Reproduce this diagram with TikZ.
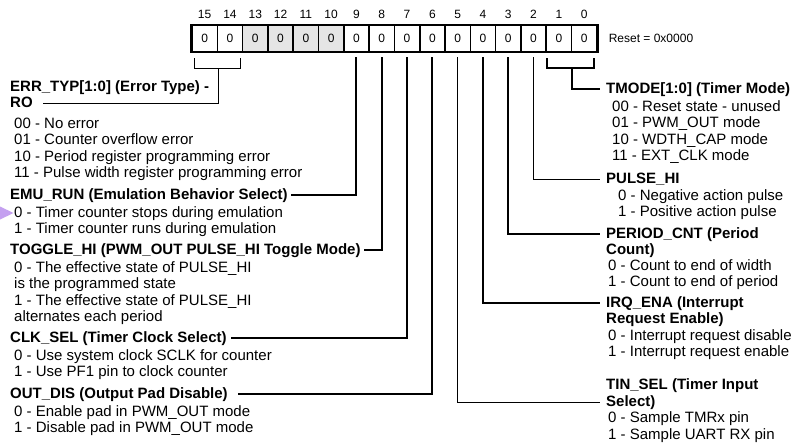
\documentclass[tikz,border=0pt]{standalone}
\usepackage{fontspec}
\setmainfont{Liberation Sans}
\usetikzlibrary{positioning}
\definecolor{shade}{gray}{0.9}
\definecolor{lavender}{RGB}{196,160,240}

\begin{document}
\begin{tikzpicture}[x=1pt,y=-1pt,
    cell/.style={draw,line width=1.6pt,minimum width=25.3pt,minimum height=26pt,
                 inner sep=0pt,font=\fontsize{12}{14}\selectfont},
    bitnum/.style={inner sep=0pt,font=\fontsize{12}{14}\selectfont},
    txt/.style={inner sep=0pt,anchor=base west,text height=11pt,text depth=3.5pt,
                font=\fontsize{15}{17}\selectfont},
    head/.style={txt,font=\fontsize{15}{17}\selectfont\bfseries},
    wire/.style={line width=2pt},
    thinwire/.style={line width=1.1pt}]

  \path[fill=white] (0,0) rectangle (806,447);
  \useasboundingbox (0,0) rectangle (806,447);

  \foreach \b/\f in {15/white,14/white,13/shade,12/shade,11/shade,10/shade,9/white,8/white,
                     7/white,6/white,5/white,4/white,3/white,2/white,1/white,0/white}{
    \node[cell,fill=\f] (b\b) at ({204.65+25.3*(15-\b)},38.5) {0};
    \node[bitnum,above=5.5pt of b\b] (n\b) {\b};
  }
  \draw[line width=2.2pt] (b15.north west) rectangle (b0.south east);
  \node[bitnum,right=11pt of b0] (reset) {Reset = 0x0000};

  % left side
  \node[head] (errtyp) at (10,91) {ERR\_TYP[1:0] (Error Type) -};
  \node[head] (errro) at (10,107) {RO};
  \foreach \t [count=\i from 0] in {00 - No error,01 - Counter overflow error,
      10 - Period register programming error,11 - Pulse width register programming error}
    \node[txt] (err\i) at (14,{128+16.6*\i}) {\t};

  \node[head] (emu) at (10,199) {EMU\_RUN (Emulation Behavior Select)};
  \foreach \t [count=\i from 0] in {0 - Timer counter stops during emulation,
      1 - Timer counter runs during emulation}
    \node[txt] (emu\i) at (14,{217+16.6*\i}) {\t};

  \node[head] (toggle) at (10,254) {TOGGLE\_HI (PWM\_OUT PULSE\_HI Toggle Mode)};
  \foreach \t [count=\i from 0] in {0 - The effective state of PULSE\_HI,is the programmed state,
      1 - The effective state of PULSE\_HI,alternates each period}
    \node[txt] (toggle\i) at (14,{272+16.6*\i}) {\t};

  \node[head] (clk) at (10,342) {CLK\_SEL (Timer Clock Select)};
  \foreach \t [count=\i from 0] in {0 - Use system clock SCLK for counter,
      1 - Use PF1 pin to clock counter}
    \node[txt] (clk\i) at (14,{360+16.6*\i}) {\t};

  \node[head] (outdis) at (10,398) {OUT\_DIS (Output Pad Disable)};
  \foreach \t [count=\i from 0] in {0 - Enable pad in PWM\_OUT mode,1 - Disable pad in PWM\_OUT mode}
    \node[txt] (outdis\i) at (14,{416+16.6*\i}) {\t};

  % right side
  \node[head] (tmode) at (606,93) {TMODE[1:0] (Timer Mode)};
  \foreach \t [count=\i from 0] in {00 - Reset state - unused,01 - PWM\_OUT mode,
      10 - WDTH\_CAP mode,11 - EXT\_CLK mode}
    \node[txt] (tmode\i) at (612,{111+16.6*\i}) {\t};

  \node[head] (pulse) at (606,183) {PULSE\_HI};
  \foreach \t [count=\i from 0] in {0 - Negative action pulse,1 - Positive action pulse}
    \node[txt] (pulse\i) at (618,{200+16.6*\i}) {\t};

  \node[head] (period) at (606,238) {PERIOD\_CNT (Period};
  \node[head] (periodb) at (606,254) {Count)};
  \foreach \t [count=\i from 0] in {0 - Count to end of width,1 - Count to end of period}
    \node[txt] (period\i) at (608,{270+16.6*\i}) {\t};

  \node[head] (irq) at (606,307) {IRQ\_ENA (Interrupt};
  \node[head] (irqb) at (606,323) {Request Enable)};
  \foreach \t [count=\i from 0] in {0 - Interrupt request disable,1 - Interrupt request enable}
    \node[txt] (irq\i) at (608,{340+16.6*\i}) {\t};

  \node[head] (tin) at (606,389.5) {TIN\_SEL (Timer Input};
  \node[head] (tinb) at (606,406) {Select)};
  \foreach \t [count=\i from 0] in {0 - Sample TMRx pin,1 - Sample UART RX pin}
    \node[txt] (tin\i) at (608,{422.5+16.6*\i}) {\t};

  % brackets
  \draw[thinwire] ([xshift=3pt,yshift=-6pt]b15.south west) -- ++(0,10)
      -| ([xshift=-3pt,yshift=-6pt]b14.south east);
  \coordinate (errtop) at ([yshift=-16pt]b15.south east);
  \draw[thinwire,shorten >=10pt] (errtop) |- (errro.east);

  \draw[wire] ([xshift=2pt,yshift=-6pt]b1.south west) -- ++(0,10)
      -| ([xshift=-4pt,yshift=-6pt]b0.south east);
  \coordinate (tmtop) at ([yshift=-16pt]b1.south east);
  \draw[wire,shorten >=6pt] (tmtop) |- (tmode.west);

  % bit connectors
  \draw[wire,shorten <=5pt,shorten >=3pt] (b9.south) |- (emu.east);
  \draw[wire,shorten <=5pt,shorten >=3pt] (b8.south) |- (toggle.east);
  \draw[wire,shorten <=5pt,shorten >=4pt] (b7.south) |- (clk.east);
  \draw[wire,shorten <=5pt,shorten >=10pt] (b6.south) |- (outdis.east);
  \draw[thinwire,shorten <=5pt,shorten >=6pt] (b5.south) |- (tinb.west);
  \draw[wire,shorten <=5pt,shorten >=6pt] (b4.south) |- (irq.west);
  \draw[wire,shorten <=5pt,shorten >=6pt] (b3.south) |- (period.west);
  \draw[thinwire,shorten <=5pt,shorten >=6pt] (b2.south) |- (pulse.west);

  \fill[lavender] (0,206.5) -- (13.5,213) -- (0,219.5) -- cycle;
\end{tikzpicture}
\end{document}
